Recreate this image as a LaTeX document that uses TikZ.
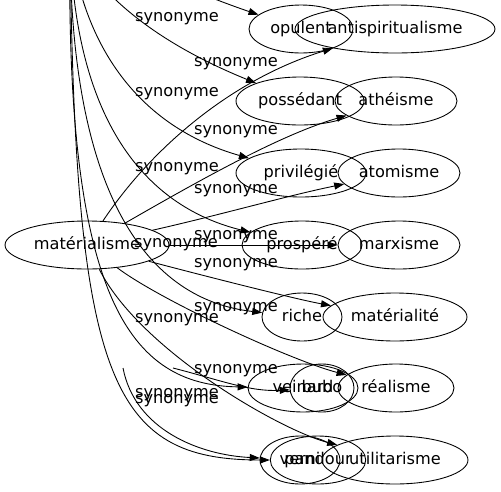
\documentclass[tikz,border=0pt]{standalone}
\usepackage{fontspec}
\setmainfont{DejaVu Sans}
\usetikzlibrary{shapes.geometric, arrows.meta}

\begin{document}
\begin{tikzpicture}[x=0.02cm, y=-0.02cm, >={Triangle[length=5.7pt,width=4pt]},
        mot/.style={draw, ellipse, inner sep=0pt, minimum height=0.96cm, line width=0.5pt, text height=7pt, text depth=2pt, font=\fontsize{9.2}{11}\selectfont},
        etiq/.style={inner sep=0pt, text height=7pt, text depth=2pt, font=\fontsize{9.2}{11}\selectfont},
        lien/.style={->, line width=0.5pt}]
        \useasboundingbox (0,0) rectangle (501,491);
        \clip (0,0) rectangle (501,491);
        % source above the frame, and two loose ends
        \coordinate (haut) at (70,-60);
        \coordinate (bout1) at (123,368);
        \coordinate (bout2) at (173,368);

        \node[mot, minimum width=3.28cm] (mat) at (87,245) {matérialisme};
        \node[mot, minimum width=2.08cm] (opulent) at (301,29) {opulent};
        \node[mot, minimum width=4.0cm] (antispi) at (395,29) {antispiritualisme};
        \node[mot, minimum width=2.56cm] (possedant) at (300,101) {possédant};
        \node[mot, minimum width=2.44cm] (atheisme) at (396,101) {athéisme};
        \node[mot, minimum width=2.6cm] (privilegie) at (301,173) {privilégié};
        \node[mot, minimum width=2.44cm] (atomisme) at (399,173) {atomisme};
        \node[mot, minimum width=2.4cm] (prospere) at (302,245) {prospéré};
        \node[mot, minimum width=2.44cm] (marxisme) at (399,245) {marxisme};
        \node[mot, minimum width=1.6cm] (riche) at (302,317) {riche};
        \node[mot, minimum width=2.88cm] (materialite) at (395,317) {matérialité};
        \node[mot, minimum width=2.2cm] (veinard) at (303,388) {veinard};
        \node[mot, minimum width=1.28cm] (bubo) at (322,388) {bubo};
        \node[mot, minimum width=2.32cm] (realisme) at (396,388) {réalisme};
        \node[mot, minimum width=1.6cm] (verni) at (300,460) {verni};
        \node[mot, minimum width=1.88cm] (pandour) at (318,460) {pandour};
        \node[mot, minimum width=2.92cm] (utilit) at (395,460) {utilitarisme};

        % edges from the top
        \draw[lien] (haut) .. controls (120,-40) and (200,-5) .. (opulent);
        \draw[lien] (haut) .. controls (95,-10) and (150,40) .. (possedant);
        \draw[lien] (haut) .. controls (85,60) and (150,130) .. (privilegie);
        \draw[lien] (haut) .. controls (75,140) and (160,210) .. (prospere);
        \draw[lien] (haut) .. controls (70,200) and (150,300) .. (riche);
        \draw[lien] (haut) .. controls (65,300) and (130,385) .. (veinard);
        \draw[lien] (haut) .. controls (75,380) and (110,460) .. (pandour);
        \draw[lien] (bout1) .. controls (135,430) and (200,455) .. (verni);
        \draw[lien] (bout2) .. controls (220,380) and (250,392) .. (bubo);

        % edges from matérialisme
        \draw[lien] (mat) .. controls (150,150) and (230,80) .. (antispi);
        \draw[lien] (mat) .. controls (200,180) and (280,135) .. (atheisme);
        \draw[lien] (mat) .. controls (220,215) and (290,195) .. (atomisme);
        \draw[lien] (mat) -- (marxisme);
        \draw[lien] (mat) .. controls (220,280) and (300,300) .. (materialite);
        \draw[lien] (mat) .. controls (160,300) and (290,360) .. (realisme);
        \draw[lien] (mat) .. controls (140,350) and (280,430) .. (utilit);

        \node[etiq] (e1) at (177,17) {synonyme};
        \node[etiq] (e2) at (236,62) {synonyme};
        \node[etiq] (e3) at (177,92) {synonyme};
        \node[etiq] (e4) at (236,130) {synonyme};
        \node[etiq] (e5) at (177,167) {synonyme};
        \node[etiq] (e6) at (236,189) {synonyme};
        \node[etiq] (e7) at (236,235) {synonyme};
        \node[etiq] (e8) at (176,243) {synonyme};
        \node[etiq] (e9) at (236,263) {synonyme};
        \node[etiq] (e10) at (236,307) {synonyme};
        \node[etiq] (e11) at (177,318) {synonyme};
        \node[etiq] (e12) at (236,369) {synonyme};
        \node[etiq] (e13) at (177,393) {synonyme};
        \node[etiq] (e14) at (177,399) {synonyme};
    \end{tikzpicture}
\end{document}
